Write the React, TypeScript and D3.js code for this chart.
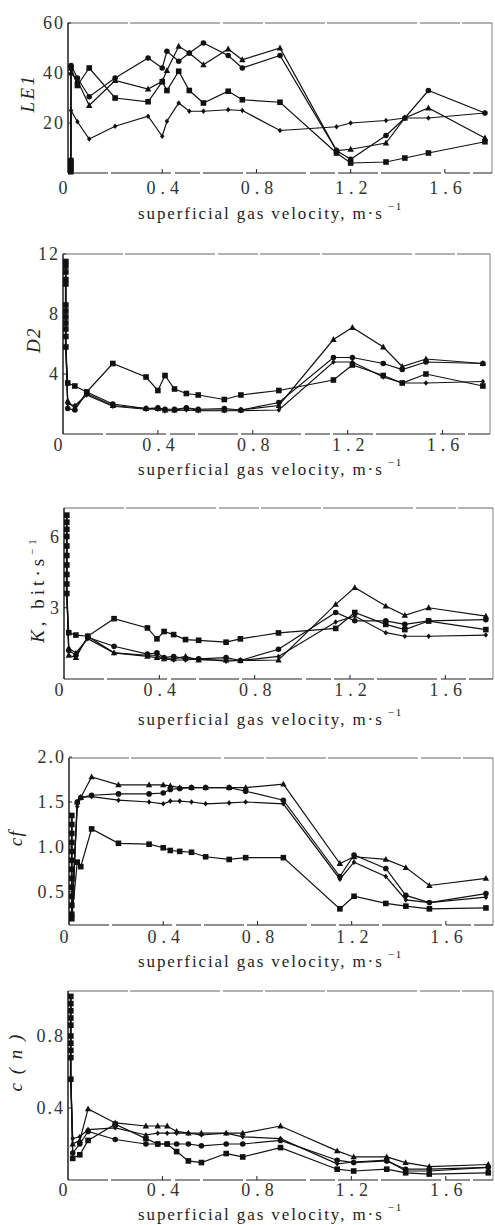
import React from 'react';
import * as d3 from 'd3';

// ---------- DATA ----------
const xTickValues = [0, 0.4, 0.8, 1.2, 1.6];
const xTickLabels = ['0', '0.4', '0.8', '1.2', '1.6'];

// Panel 1: LE1
const velocity1 = [0.013, 0.04, 0.09, 0.2, 0.34, 0.4, 0.42, 0.47, 0.515, 0.575, 0.68, 0.74, 0.9, 1.14, 1.2, 1.35, 1.43, 1.53, 1.77];
const le1Circle = [43, 38, 30.5, 38, 46, 42, 48.7, 44.7, 48, 52, 47, 42, 47, 9, 5.5, 15, 22, 33, 24];
const le1Square = [42, 35, 42, 30, 28.5, 36.5, 33, 40.7, 33, 28, 32.7, 29.3, 28.3, 8, 4, 4.4, 6, 8, 12.5];
const le1Triangle = [40, 37, 27, 37, 33.6, 36.7, 41, 50.7, 48, 43.3, 49.6, 45.3, 50, 9, 9.5, 12, 22, 26, 14];
const le1Diamond = [25, 20.5, 13.6, 18.7, 22.7, 14.7, 20.7, 28, 24.7, 24.7, 25.3, 25, 17, 18.5, 20, 21, 22, 22, 24];
const le1Spike = [0.5, 1.5, 2.5, 3.5, 4.5, 5];
const le1Ticks = [20, 40, 60];

// Panel 2: D2
const velocity2 = [0.02, 0.05, 0.1, 0.21, 0.35, 0.4, 0.43, 0.47, 0.52, 0.57, 0.68, 0.75, 0.91, 1.14, 1.22, 1.35, 1.43, 1.53, 1.77];
const d2Square = [3.4, 3.2, 2.8, 4.7, 3.8, 2.9, 3.9, 3.0, 2.7, 2.6, 2.3, 2.6, 2.9, 3.6, 4.6, 3.9, 3.4, 4.0, 3.2];
const d2Triangle = [2.2, 1.7, 2.7, 1.9, 1.7, 1.7, 1.6, 1.6, 1.7, 1.6, 1.6, 1.6, 1.9, 6.3, 7.1, 5.8, 4.5, 5.0, 4.7];
const d2Circle = [1.7, 1.6, 2.8, 2.0, 1.7, 1.75, 1.65, 1.65, 1.75, 1.65, 1.7, 1.6, 2.1, 5.1, 5.1, 4.7, 4.3, 4.8, 4.7];
const d2Diamond = [2.0, 1.9, 2.6, 1.85, 1.65, 1.65, 1.55, 1.55, 1.6, 1.55, 1.55, 1.55, 1.6, 4.8, 4.8, 3.8, 3.4, 3.4, 3.5];
const d2Spike = [11.5, 11.2, 10.8, 10.3, 10.0, 8.6, 8.2, 7.8, 7.4, 7.0, 6.5, 5.8];
const d2Ticks = [4, 8, 12];

// Panel 3: K
const velocity3 = [0.02, 0.05, 0.1, 0.21, 0.35, 0.39, 0.42, 0.46, 0.51, 0.565, 0.68, 0.74, 0.9, 1.14, 1.22, 1.35, 1.43, 1.53, 1.77];
const kSquare = [1.95, 1.85, 1.8, 2.54, 2.15, 1.69, 2.0, 1.87, 1.66, 1.63, 1.55, 1.69, 1.94, 2.13, 2.8, 2.3, 2.08, 2.44, 2.08];
const kTriangle = [1.0, 0.9, 1.8, 1.1, 0.95, 0.9, 0.85, 0.85, 0.95, 0.8, 0.8, 0.78, 0.8, 3.14, 3.85, 3.07, 2.68, 3.0, 2.65];
const kCircle = [1.2, 1.0, 1.75, 1.38, 1.05, 1.1, 0.9, 0.95, 0.85, 0.85, 0.9, 0.78, 1.25, 2.8, 2.45, 2.45, 2.3, 2.45, 2.5];
const kDiamond = [1.3, 1.1, 1.7, 1.1, 1.0, 1.0, 0.85, 0.8, 0.8, 0.85, 0.75, 0.78, 0.95, 2.4, 2.65, 1.95, 1.8, 1.8, 1.85];
const kSpike = [6.9, 6.6, 6.3, 6.0, 5.6, 5.2, 4.8, 4.4, 4.0, 3.6];
const kTicks = [3, 6];

// Panel 4: cf
const velocity4 = [0.035, 0.05, 0.096, 0.21, 0.34, 0.4, 0.43, 0.47, 0.52, 0.58, 0.68, 0.75, 0.91, 1.15, 1.21, 1.345, 1.43, 1.53, 1.77];
const cfTriangle = [1.5, 1.55, 1.78, 1.69, 1.69, 1.69, 1.68, 1.66, 1.66, 1.66, 1.66, 1.66, 1.7, 0.815, 0.89, 0.86, 0.77, 0.57, 0.65];
const cfCircle = [1.5, 1.55, 1.575, 1.59, 1.59, 1.6, 1.64, 1.65, 1.66, 1.66, 1.66, 1.62, 1.52, 0.67, 0.91, 0.76, 0.46, 0.38, 0.48];
const cfDiamond = [1.45, 1.55, 1.56, 1.52, 1.5, 1.48, 1.51, 1.51, 1.5, 1.48, 1.49, 1.5, 1.48, 0.64, 0.83, 0.67, 0.41, 0.38, 0.44];
const cfSquare = [0.83, 0.78, 1.2, 1.04, 1.03, 0.99, 0.96, 0.95, 0.94, 0.89, 0.86, 0.88, 0.88, 0.31, 0.45, 0.37, 0.34, 0.31, 0.32];
const cfSpike = [1.35, 1.25, 1.15, 1.05, 0.95, 0.85, 0.75, 0.65, 0.55, 0.45, 0.35, 0.25, 0.2];
const cfTicks = [0.5, 1.0, 1.5, 2.0];

// Panel 5: c(n)
const velocity5 = [0.02, 0.05, 0.085, 0.2, 0.33, 0.38, 0.42, 0.46, 0.51, 0.565, 0.67, 0.74, 0.9, 1.14, 1.21, 1.35, 1.43, 1.53, 1.78];
const cnTriangle = [0.2, 0.22, 0.395, 0.317, 0.3, 0.3, 0.3, 0.27, 0.26, 0.26, 0.26, 0.26, 0.3, 0.162, 0.128, 0.128, 0.097, 0.074, 0.086];
const cnSquare = [0.12, 0.14, 0.22, 0.31, 0.23, 0.2, 0.2, 0.158, 0.106, 0.097, 0.147, 0.128, 0.18, 0.06, 0.05, 0.06, 0.04, 0.033, 0.04];
const cnCircle = [0.15, 0.2, 0.27, 0.225, 0.2, 0.2, 0.2, 0.2, 0.2, 0.19, 0.2, 0.2, 0.22, 0.11, 0.097, 0.106, 0.06, 0.06, 0.07];
const cnDiamond = [0.23, 0.24, 0.28, 0.29, 0.25, 0.26, 0.26, 0.26, 0.26, 0.25, 0.26, 0.24, 0.23, 0.09, 0.1, 0.11, 0.05, 0.05, 0.07];
const cnSpike = [1.02, 0.98, 0.94, 0.9, 0.86, 0.8, 0.76, 0.72, 0.68, 0.56];
const cnTicks = [0.4, 0.8];

const spikeVelocity = 0.012;

// ---------- LAYOUT ----------
type Shape = 'circle' | 'square' | 'triangle' | 'diamond';
interface PanelCfg {
  left: number; right: number; top: number; bottom: number;
  yDomain: [number, number];
  yTicks: number[];
  yTickFmt: (v: number) => string;
  tickLabelY: number; titleY: number;
  yLabel: React.ReactNode; yLabelX: number; yLabelY: number; yLabelSpacing: number;
  xs: number[];
  series: { values: number[]; shape: Shape }[];
  spike: number[];
}

const serifStyle: React.CSSProperties = { fontFamily: "'Liberation Serif', 'Times New Roman', 'DejaVu Serif', serif" };

const panels: PanelCfg[] = [
  {
    left: 68, right: 492, top: 23, bottom: 173, yDomain: [0, 60], yTicks: le1Ticks, yTickFmt: (v) => String(v),
    tickLabelY: 194, titleY: 219, yLabelX: 28, yLabelY: 93, yLabelSpacing: 2.5,
    yLabel: <tspan fontStyle="italic">LE1</tspan>,
    xs: velocity1,
    series: [
      { values: le1Circle, shape: 'circle' },
      { values: le1Square, shape: 'square' },
      { values: le1Triangle, shape: 'triangle' },
      { values: le1Diamond, shape: 'diamond' },
    ],
    spike: le1Spike,
  },
  {
    left: 63, right: 490, top: 254, bottom: 434, yDomain: [0, 12], yTicks: d2Ticks, yTickFmt: (v) => String(v),
    tickLabelY: 451, titleY: 475, yLabelX: 34, yLabelY: 340, yLabelSpacing: 1.5,
    yLabel: <tspan fontStyle="italic">D2</tspan>,
    xs: velocity2,
    series: [
      { values: d2Square, shape: 'square' },
      { values: d2Triangle, shape: 'triangle' },
      { values: d2Circle, shape: 'circle' },
      { values: d2Diamond, shape: 'diamond' },
    ],
    spike: d2Spike,
  },
  {
    left: 64, right: 493, top: 508, bottom: 679, yDomain: [0, 7.2], yTicks: kTicks, yTickFmt: (v) => String(v),
    tickLabelY: 696, titleY: 725, yLabelX: 38, yLabelY: 589, yLabelSpacing: 4,
    yLabel: (
      <>
        <tspan fontStyle="italic">K</tspan>
        <tspan>, bit·s</tspan>
        <tspan fontSize={11} dy={-8}>−1</tspan>
      </>
    ),
    xs: velocity3,
    series: [
      { values: kSquare, shape: 'square' },
      { values: kTriangle, shape: 'triangle' },
      { values: kCircle, shape: 'circle' },
      { values: kDiamond, shape: 'diamond' },
    ],
    spike: kSpike,
  },
  {
    left: 69, right: 493, top: 758, bottom: 925, yDomain: [0.13, 1.99], yTicks: cfTicks, yTickFmt: (v) => v.toFixed(1),
    tickLabelY: 943, titleY: 967, yLabelX: 16, yLabelY: 838, yLabelSpacing: 1.5,
    yLabel: <tspan fontStyle="italic">cf</tspan>,
    xs: velocity4,
    series: [
      { values: cfTriangle, shape: 'triangle' },
      { values: cfCircle, shape: 'circle' },
      { values: cfDiamond, shape: 'diamond' },
      { values: cfSquare, shape: 'square' },
    ],
    spike: cfSpike,
  },
  {
    left: 68, right: 493, top: 991, bottom: 1180, yDomain: [0, 1.05], yTicks: cnTicks, yTickFmt: (v) => v.toFixed(1),
    tickLabelY: 1196, titleY: 1220, yLabelX: 16, yLabelY: 1062, yLabelSpacing: 2,
    yLabel: <tspan fontStyle="italic">c ( n )</tspan>,
    xs: velocity5,
    series: [
      { values: cnTriangle, shape: 'triangle' },
      { values: cnSquare, shape: 'square' },
      { values: cnCircle, shape: 'circle' },
      { values: cnDiamond, shape: 'diamond' },
    ],
    spike: cnSpike,
  },
];

function Marker({ x, y, shape }: { x: number; y: number; shape: Shape }) {
  const s = 2.8;
  if (shape === 'circle') return <circle cx={x} cy={y} r={s} fill="#111" />;
  if (shape === 'square') return <rect x={x - s} y={y - s} width={2 * s} height={2 * s} fill="#111" />;
  if (shape === 'triangle')
    return <path d={`M${x},${y - s - 0.6}L${x + s + 0.4},${y + s - 0.4}L${x - s - 0.4},${y + s - 0.4}Z`} fill="#111" />;
  return <path d={`M${x},${y - s}L${x + s * 0.8},${y}L${x},${y + s}L${x - s * 0.8},${y}Z`} fill="#111" />;
}

function Panel({ cfg }: { cfg: PanelCfg }) {
  const x = d3.scaleLinear().domain([0, 1.8]).range([cfg.left, cfg.right]);
  const y = d3.scaleLinear().domain(cfg.yDomain).range([cfg.bottom, cfg.top]);
  const line = d3.line<[number, number]>().x((d) => x(d[0])).y((d) => y(d[1]));
  const spikePts: [number, number][] = cfg.spike.map((v) => [spikeVelocity, v]);
  return (
    <g>
      {/* frame */}
      <line x1={cfg.left} x2={cfg.right} y1={cfg.top} y2={cfg.top} stroke="#555" strokeWidth={0.9} strokeDasharray="60 2 90 3 40 2" />
      <line x1={cfg.right} x2={cfg.right} y1={cfg.top} y2={cfg.bottom} stroke="#666" strokeWidth={0.8} />
      <line x1={cfg.left} x2={cfg.right} y1={cfg.bottom} y2={cfg.bottom} stroke="#222" strokeWidth={1.1} strokeDasharray="40 3 60 4 25 3" />
      <line x1={cfg.left} x2={cfg.left} y1={cfg.top} y2={cfg.bottom} stroke="#111" strokeWidth={1.4} />
      {/* x ticks */}
      {xTickValues.map((v, i) => (
        <g key={'xt' + i}>
          {v > 0 && <line x1={x(v)} x2={x(v)} y1={cfg.bottom} y2={cfg.bottom - 4} stroke="#222" strokeWidth={1} />}
          <text x={x(v) + (v === 0 ? -5 : 3)} y={cfg.tickLabelY} textAnchor="middle" style={serifStyle} fontSize={18} letterSpacing={v === 0 ? 0 : 5} fill="#333">
            {xTickLabels[i]}
          </text>
        </g>
      ))}
      {/* y ticks */}
      {cfg.yTicks.map((v, i) => (
        <g key={'yt' + i}>
          <line x1={cfg.left} x2={cfg.left + 3} y1={y(v)} y2={y(v)} stroke="#222" strokeWidth={1} />
          <text x={cfg.left - 3} y={y(v) + 6} textAnchor="end" style={serifStyle} fontSize={18} letterSpacing={2} fill="#333">
            {cfg.yTickFmt(v)}
          </text>
        </g>
      ))}
      {/* y label */}
      <text transform={`translate(${cfg.yLabelX},${cfg.yLabelY}) rotate(-90)`} textAnchor="middle" style={serifStyle} fontSize={19} letterSpacing={cfg.yLabelSpacing} fill="#222" dy={6}>
        {cfg.yLabel}
      </text>
      {/* x title */}
      <text x={138} y={cfg.titleY} style={serifStyle} fontSize={17} letterSpacing={1.9} fill="#222">
        superficial gas velocity, m·s
        <tspan fontSize={11} dx={4} dy={-9}>−1</tspan>
      </text>
      {/* spike */}
      <path d={line(spikePts) || ''} fill="none" stroke="#111" strokeWidth={2} />
      {spikePts.map((p, i) => (
        <Marker key={'sp' + i} x={x(p[0])} y={y(p[1])} shape="square" />
      ))}
      {/* series */}
      {cfg.series.map((s, si) => {
        const pts: [number, number][] = s.values.map((v, i) => [cfg.xs[i], v]);
        const withSpike: [number, number][] = [[spikeVelocity, cfg.spike[cfg.spike.length - 1]], ...pts];
        return (
          <g key={'s' + si}>
            <path d={line(withSpike) || ''} fill="none" stroke="#111" strokeWidth={1.2} />
            {pts.map((p, i) => (
              <Marker key={i} x={x(p[0])} y={y(p[1])} shape={s.shape} />
            ))}
          </g>
        );
      })}
    </g>
  );
}

export default function App() {
  return (
    <svg width={495} height={1225} style={{ position: 'absolute', left: 0, top: 0, background: '#fff' }}>
      <rect x={0} y={0} width={495} height={1225} fill="#fff" />
      {panels.map((p, i) => (
        <Panel key={i} cfg={p} />
      ))}
    </svg>
  );
}
